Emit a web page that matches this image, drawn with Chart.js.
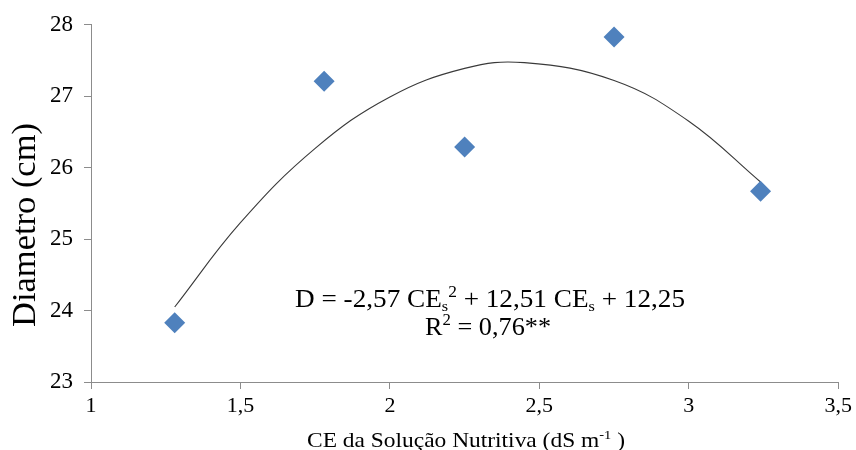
<!DOCTYPE html>
<html>
<head>
<meta charset="utf-8">
<script src="https://cdn.jsdelivr.net/npm/chart.js@4/dist/chart.umd.min.js"></script>
<style>
  html, body { margin: 0; padding: 0; background: #ffffff; }
  #wrap { width: 856px; height: 450px; position: relative; }
</style>
</head>
<body>
<div id="wrap"><canvas id="c" width="856" height="450"></canvas></div>
<script>
// ---- data ----
const obsX = [1.28, 1.78, 2.25, 2.75, 3.24];
const obsY = [23.83, 27.21, 26.29, 27.83, 25.67];
const curveX = [1.28, 1.5, 1.75, 2.0, 2.25, 2.45, 2.75, 3.0, 3.24];
const curveY = [24.05, 25.23, 26.27, 26.99, 27.39, 27.47, 27.22, 26.65, 25.80];
const xTicks = [1, 1.5, 2, 2.5, 3, 3.5];
const xTickLabels = ['1', '1,5', '2', '2,5', '3', '3,5'];
const yTickLabels = ['23', '24', '25', '26', '27', '28'];
const yTitle = 'Diametro (cm)';
const xTitleParts = ['CE da Solução Nutritiva (dS m', '-1', ' )'];
const eqLine1 = ['D = -2,57 CE', 's', '2', ' + 12,51 CE', 's', ' + 12,25'];
const eqLine2 = ['R', '2', ' = 0,76**'];

const SERIF = '"Liberation Serif", "Times New Roman", serif';
const AXIS = '#8c8c8c';

function drawRich(ctx, parts, cx, baseline, targetW) {
  let w = 0;
  parts.forEach(p => { ctx.font = p.size + 'px ' + SERIF; w += ctx.measureText(p.t).width; });
  const sx = targetW ? targetW / w : 1;
  ctx.save();
  ctx.translate(cx, baseline);
  ctx.scale(sx, 1);
  let x = -w / 2;
  ctx.textBaseline = 'alphabetic';
  ctx.textAlign = 'left';
  ctx.fillStyle = '#000';
  parts.forEach(p => {
    ctx.font = p.size + 'px ' + SERIF;
    ctx.fillText(p.t, x, p.dy || 0);
    x += ctx.measureText(p.t).width;
  });
  ctx.restore();
}

const textPlugin = {
  id: 'texts',
  afterDraw(chart) {
    const ctx = chart.ctx;
    // equation
    drawRich(ctx, [
      {t: eqLine1[0], size: 25},
      {t: eqLine1[1], size: 15, dy: 4},
      {t: eqLine1[2], size: 16, dy: -10},
      {t: eqLine1[3], size: 25},
      {t: eqLine1[4], size: 15, dy: 4},
      {t: eqLine1[5], size: 25}
    ], 490, 307, 390);
    drawRich(ctx, [
      {t: eqLine2[0], size: 25},
      {t: eqLine2[1], size: 16, dy: -10},
      {t: eqLine2[2], size: 25}
    ], 488, 335, 126);
    // x title
    drawRich(ctx, [
      {t: xTitleParts[0], size: 21},
      {t: xTitleParts[1], size: 13, dy: -8},
      {t: xTitleParts[2], size: 21}
    ], 466, 447, 318);
    // y title (rotated)
    ctx.save();
    ctx.translate(35, 225);
    ctx.rotate(-Math.PI / 2);
    drawRich(ctx, [{t: yTitle, size: 33}], 0, 0, 204);
    ctx.restore();
  }
};

new Chart(document.getElementById('c'), {
  data: {
    datasets: [
      {
        type: 'line',
        data: curveX.map((x, i) => ({x: x, y: curveY[i]})),
        borderColor: '#3a3a3a',
        borderWidth: 1.1,
        pointRadius: 0,
        tension: 0.4,
        fill: false,
        order: 2
      },
      {
        type: 'scatter',
        data: obsX.map((x, i) => ({x: x, y: obsY[i]})),
        pointStyle: 'rectRot',
        pointRadius: 10.5,
        backgroundColor: '#4F81BD',
        borderColor: '#4F81BD',
        borderWidth: 0,
        order: 1
      }
    ]
  },
  options: {
    responsive: false,
    animation: false,
    devicePixelRatio: 1,
    layout: { padding: { left: 0, right: 15, top: 11, bottom: 0 } },
    plugins: { legend: { display: false }, tooltip: { enabled: false } },
    scales: {
      x: {
        type: 'linear',
        min: 1, max: 3.5,
        afterBuildTicks: s => { s.ticks = xTicks.map(v => ({value: v})); },
        afterFit: s => { s.height = 68; },
        ticks: {
          callback: (v, i) => xTickLabels[i],
          color: '#000',
          font: { family: SERIF, size: 22 },
          padding: 4,
          maxRotation: 0
        },
        grid: { drawOnChartArea: false, drawTicks: true, tickLength: 7, color: AXIS },
        border: { display: true, color: AXIS, width: 1 }
      },
      y: {
        type: 'linear',
        min: 23, max: 28,
        ticks: {
          stepSize: 1,
          callback: (v, i) => yTickLabels[i],
          color: '#000',
          font: { family: SERIF, size: 23 },
          padding: 11
        },
        afterFit: s => { s.width = 91; },
        grid: { drawOnChartArea: false, drawTicks: true, tickLength: 7, color: AXIS },
        border: { display: true, color: AXIS, width: 1 }
      }
    }
  },
  plugins: [textPlugin]
});
</script>
</body>
</html>
